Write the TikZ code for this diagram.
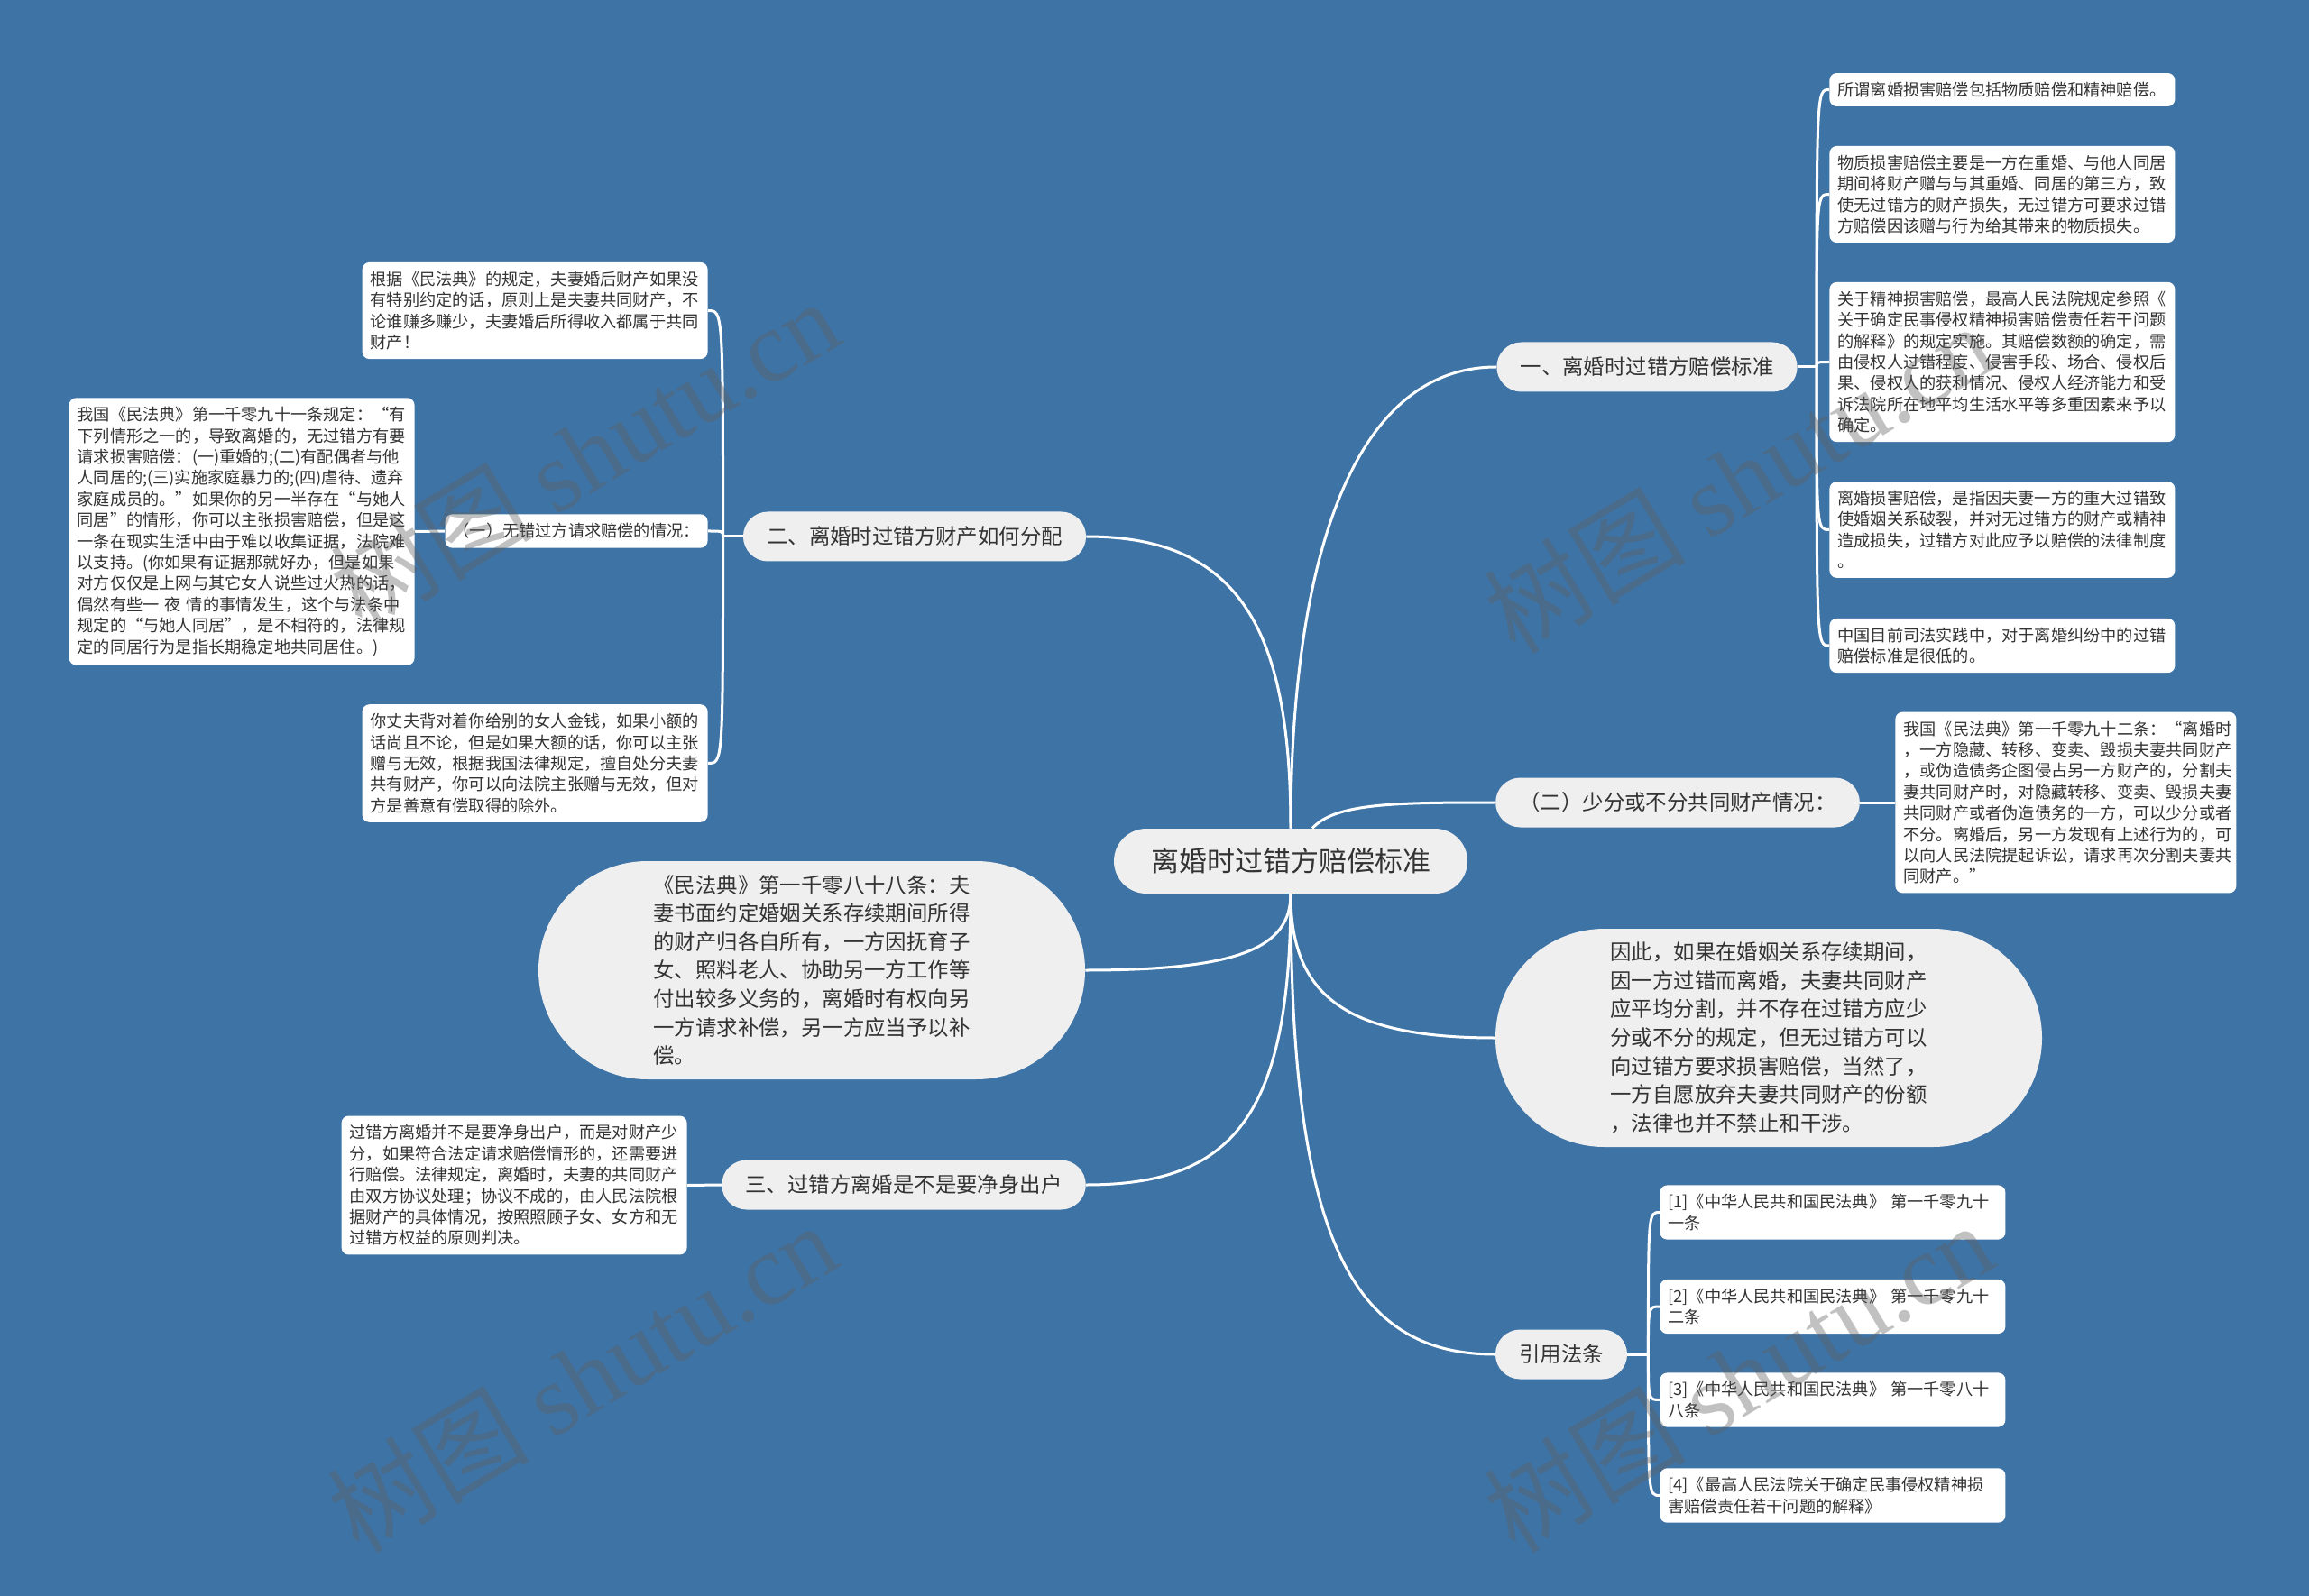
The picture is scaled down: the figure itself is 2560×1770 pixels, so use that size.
\documentclass[tikz,border=0pt]{standalone}
\usepackage{fontspec}
\setmainfont{Noto Sans CJK SC}
\newfontfamily\markserif{Liberation Serif}
\usepackage{tikz}
\usetikzlibrary{calc,shapes.misc}
\usepackage{xcolor}
\definecolor{MapBlue}{HTML}{3E73A6}
\definecolor{MapPill}{HTML}{EFEFEF}
\definecolor{MapInk}{HTML}{333333}
\definecolor{MapMark}{HTML}{5E5E5E}

\begin{document}
\begin{tikzpicture}[x=0.5pt,y=-0.5pt,
  link/.style={draw=white,line width=1.5pt},
  leaf/.style={fill=white,rounded corners=4pt,text=MapInk,align=left,
    font=\fontsize{9.1}{11.7}\selectfont,inner xsep=4.5pt,inner ysep=5pt},
  leafw/.style={leaf,text width=182.5pt},
  pill/.style={rounded rectangle,fill=MapPill,text=MapInk,
    font=\fontsize{11.7}{15.8}\selectfont,inner xsep=12pt,minimum height=27.5pt},
  bigpill/.style={pill,align=left,inner xsep=3pt,minimum height=121pt,minimum width=309pt},
  wmark/.style={text=MapMark,opacity=0.38,rotate=31,font=\fontsize{56}{56}\selectfont}]
  \useasboundingbox (0,0) rectangle (2560,1770);
  \fill[MapBlue] (0,0) rectangle (2560,1770);

  % centre and first level
  \node[pill,font=\fontsize{15.5}{18}\selectfont,inner xsep=19pt,minimum height=36pt] (root) at (1431,955) {离婚时过错方赔偿标准};
  \node[pill] (fault) at (1826,407) {一、离婚时过错方赔偿标准};
  \node[pill] (divide) at (1014,595) {二、离婚时过错方财产如何分配};
  \node[pill] (less) at (1860,890) {（二）少分或不分共同财产情况：};
  \node[bigpill] (code) at (900,1076) {《民法典》第一千零八十八条：夫\\妻书面约定婚姻关系存续期间所得\\的财产归各自所有，一方因抚育子\\女、照料老人、协助另一方工作等\\付出较多义务的，离婚时有权向另\\一方请求补偿，另一方应当予以补\\偿。};
  \node[bigpill] (thus) at (1961,1151) {因此，如果在婚姻关系存续期间，\\因一方过错而离婚，夫妻共同财产\\应平均分割，并不存在过错方应少\\分或不分的规定，但无过错方可以\\向过错方要求损害赔偿，当然了，\\一方自愿放弃夫妻共同财产的份额\\，法律也并不禁止和干涉。};
  \node[pill] (clean) at (1002,1314) {三、过错方离婚是不是要净身出户};
  \node[pill] (cite) at (1731,1502) {引用法条};

  % right leaves of the first branch
  \node[leafw,anchor=west] (sumup) at (2028,99.5) {所谓离婚损害赔偿包括物质赔偿和精神赔偿。};
  \node[leafw,anchor=west] (material) at (2028,215.5) {物质损害赔偿主要是一方在重婚、与他人同居\\期间将财产赠与与其重婚、同居的第三方，致\\使无过错方的财产损失，无过错方可要求过错\\方赔偿因该赠与行为给其带来的物质损失。};
  \node[leafw,anchor=west] (mental) at (2028,401.5) {关于精神损害赔偿，最高人民法院规定参照《\\关于确定民事侵权精神损害赔偿责任若干问题\\的解释》的规定实施。其赔偿数额的确定，需\\由侵权人过错程度、侵害手段、场合、侵权后\\果、侵权人的获利情况、侵权人经济能力和受\\诉法院所在地平均生活水平等多重因素来予以\\确定。};
  \node[leafw,anchor=west] (meaning) at (2028,587.5) {离婚损害赔偿，是指因夫妻一方的重大过错致\\使婚姻关系破裂，并对无过错方的财产或精神\\造成损失，过错方对此应予以赔偿的法律制度\\。};
  \node[leafw,anchor=west] (practice) at (2028,716) {中国目前司法实践中，对于离婚纠纷中的过错\\赔偿标准是很低的。};
  \node[leafw,anchor=west,text width=180pt] (art1092) at (2101,890) {我国《民法典》第一千零九十二条：“离婚时\\，一方隐藏、转移、变卖、毁损夫妻共同财产\\，或伪造债务企图侵占另一方财产的，分割夫\\妻共同财产时，对隐藏转移、变卖、毁损夫妻\\共同财产或者伪造债务的一方，可以少分或者\\不分。离婚后，另一方发现有上述行为的，可\\以向人民法院提起诉讼，请求再次分割夫妻共\\同财产。”};

  % left leaves
  \node[leafw,anchor=east] (common) at (785,344.5) {根据《民法典》的规定，夫妻婚后财产如果没\\有特别约定的话，原则上是夫妻共同财产，不\\论谁赚多赚少，夫妻婚后所得收入都属于共同\\财产！};
  \node[leaf,anchor=east] (noclaim) at (785,589) {（一）无错过方请求赔偿的情况：};
  \node[leafw,anchor=east] (art1091) at (460,589.5) {我国《民法典》第一千零九十一条规定：“有\\下列情形之一的，导致离婚的，无过错方有要\\请求损害赔偿：(一)重婚的;(二)有配偶者与他\\人同居的;(三)实施家庭暴力的;(四)虐待、遗弃\\家庭成员的。”如果你的另一半存在“与她人\\同居”的情形，你可以主张损害赔偿，但是这\\一条在现实生活中由于难以收集证据，法院难\\以支持。(你如果有证据那就好办，但是如果\\对方仅仅是上网与其它女人说些过火热的话，\\偶然有些一 夜 情的事情发生，这个与法条中\\规定的“与她人同居”，是不相符的，法律规\\定的同居行为是指长期稳定地共同居住。)};
  \node[leafw,anchor=east] (gift) at (785,846.5) {你丈夫背对着你给别的女人金钱，如果小额的\\话尚且不论，但是如果大额的话，你可以主张\\赠与无效，根据我国法律规定，擅自处分夫妻\\共有财产，你可以向法院主张赠与无效，但对\\方是善意有偿取得的除外。};
  \node[leafw,anchor=east] (share) at (762,1314.5) {过错方离婚并不是要净身出户，而是对财产少\\分，如果符合法定请求赔偿情形的，还需要进\\行赔偿。法律规定，离婚时，夫妻的共同财产\\由双方协议处理；协议不成的，由人民法院根\\据财产的具体情况，按照照顾子女、女方和无\\过错方权益的原则判决。};

  % cited articles
  \node[leafw,anchor=west] (ref1) at (1840,1344.5) {[1]《中华人民共和国民法典》 第一千零九十\\一条};
  \node[leafw,anchor=west] (ref2) at (1840,1449) {[2]《中华人民共和国民法典》 第一千零九十\\二条};
  \node[leafw,anchor=west] (ref3) at (1840,1552.5) {[3]《中华人民共和国民法典》 第一千零八十\\八条};
  \node[leafw,anchor=west] (ref4) at (1840,1658.5) {[4]《最高人民法院关于确定民事侵权精神损\\害赔偿责任若干问题的解释》};

  % connectors from the centre
  \draw[link] (root.north) .. controls +(0,-270) and +(-170,0) .. (fault.west);
  \draw[link] (root.north) .. controls +(0,-220) and +(170,0) .. (divide.east);
  \draw[link] ($(root.north)+(24,0)$) .. controls +(25,-28) and +(-110,0) .. (less.west);
  \draw[link] (root.south) .. controls +(0,60) and +(170,0) .. (code.east);
  \draw[link] (root.south) .. controls +(0,110) and +(-170,0) .. (thus.west);
  \draw[link] (root.south) .. controls +(0,250) and +(160,0) .. (clean.east);
  \draw[link] (root.south) .. controls +(0,380) and +(-160,0) .. (cite.west);

  % connectors to the leaves
  \draw[link] (fault.east) -- ++(21,0) coordinate (faultj);
  \foreach \leaf in {sumup,material,mental,meaning,practice}
    \draw[link] (faultj) .. controls (faultj |- \leaf.west) .. (\leaf.west);
  \draw[link] (divide.west) -- ++(-22,0) coordinate (dividej);
  \foreach \leaf in {common,noclaim,gift}
    \draw[link] (dividej) .. controls (dividej |- \leaf.east) .. (\leaf.east);
  \draw[link] (noclaim.west) -- (art1091.east);
  \draw[link] (less.east) -- (art1092.west);
  \draw[link] (clean.west) -- (share.east);
  \draw[link] (cite.east) -- ++(23,0) coordinate (citej);
  \foreach \leaf in {ref1,ref2,ref3,ref4}
    \draw[link] (citej) .. controls (citej |- \leaf.west) .. (\leaf.west);

  % watermarks
  \node[wmark] (wm1) at (648,503) {树图 {\markserif shutu.cn}};
  \node[wmark] (wm2) at (1927,530) {树图 {\markserif shutu.cn}};
  \node[wmark] (wm3) at (645,1527) {树图 {\markserif shutu.cn}};
  \node[wmark] (wm4) at (1927,1527) {树图 {\markserif shutu.cn}};
\end{tikzpicture}
\end{document}
